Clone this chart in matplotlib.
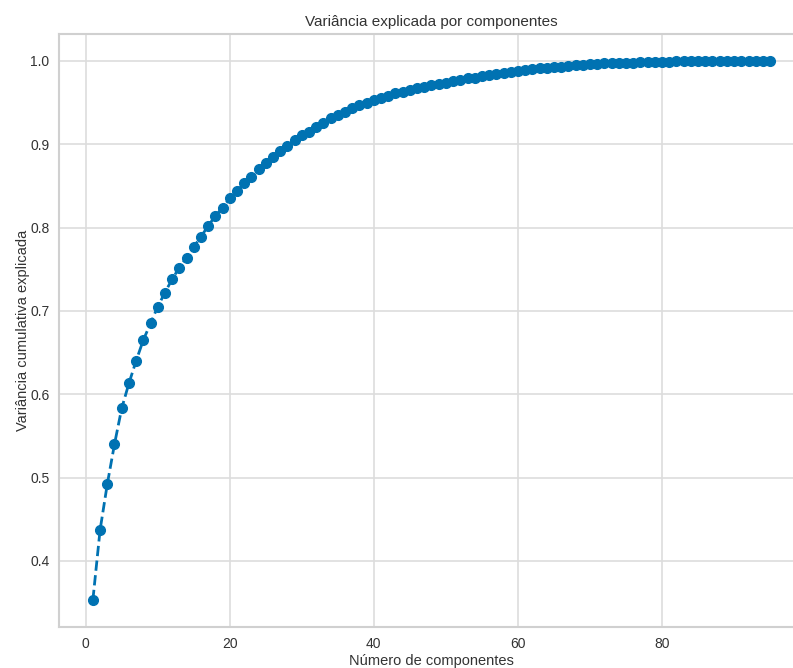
import numpy as np
import matplotlib.pyplot as plt

plt.rcParams['font.family'] = ['Liberation Sans', 'DejaVu Sans']

# cumulative explained variance, one value per component
n_comp = np.arange(1, 96)
var_cum = [
    0.353, 0.437, 0.492, 0.540, 0.583, 0.613, 0.640, 0.665, 0.685, 0.705,
    0.722, 0.738, 0.752, 0.764, 0.777, 0.789, 0.802, 0.814, 0.824, 0.835,
    0.844, 0.853, 0.861, 0.870, 0.877, 0.885, 0.892, 0.898, 0.905, 0.911,
    0.915, 0.921, 0.926, 0.931, 0.935, 0.939, 0.943, 0.947, 0.950, 0.953,
    0.956, 0.958, 0.961, 0.963, 0.965, 0.967, 0.969, 0.971, 0.972, 0.974,
    0.976, 0.977, 0.979, 0.980, 0.982, 0.983, 0.984, 0.986, 0.987, 0.988,
    0.989, 0.990, 0.991, 0.992, 0.993, 0.993, 0.994, 0.995, 0.995, 0.996,
    0.996, 0.997, 0.997, 0.998, 0.998, 0.998, 0.999, 0.999, 0.999, 0.999,
    0.999, 1.000, 1.000, 1.000, 1.000, 1.000, 1.000, 1.000, 1.000, 1.000,
    1.000, 1.000, 1.000, 1.000, 1.000,
]

fig = plt.figure(figsize=(7.93, 6.68), dpi=100)
ax = fig.add_axes([59/793, 41/668, 745/793, 593/668])

ax.plot(n_comp, var_cum, marker='o', linestyle='--', color='#0072B2',
        linewidth=2, markersize=7, zorder=3)

ax.set_title('Variância explicada por componentes', fontsize=11, color='#333333')
ax.set_xlabel('Número de componentes', fontsize=10.5, color='#333333', labelpad=2)
ax.set_ylabel('Variância cumulativa explicada', fontsize=10.5, color='#333333', labelpad=0)

ax.grid(True, color='#dddddd', linewidth=1.2)
ax.set_axisbelow(True)
for sp in ax.spines.values():
    sp.set_color('#d0d0d0')
    sp.set_linewidth(1.5)
ax.tick_params(length=0, labelsize=10, colors='#333333', pad=7)

fig.savefig('out.png', dpi=100)
